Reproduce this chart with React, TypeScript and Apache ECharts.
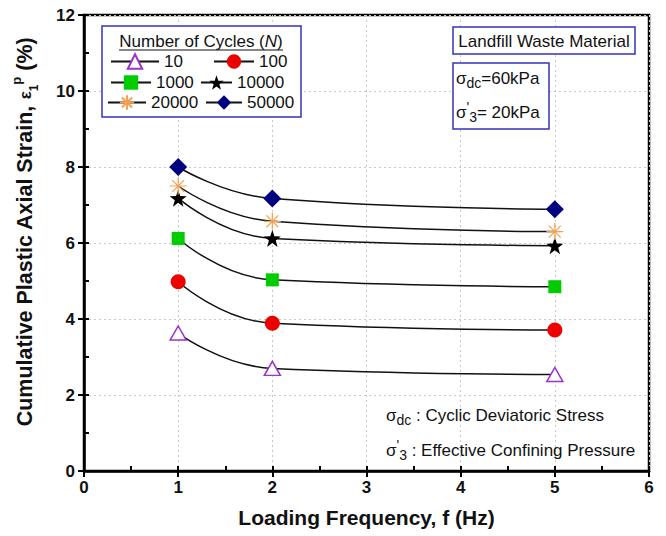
import React, { useEffect, useRef } from "react";
import * as echarts from "echarts";

const frequencies = [1, 2, 5];
const cycleNames = ["10", "100", "1000", "10000", "20000", "50000"];
const strain10 = [3.63, 2.7, 2.54];
const strain100 = [4.98, 3.89, 3.71];
const strain1000 = [6.12, 5.03, 4.85];
const strain10000 = [7.18, 6.12, 5.93];
const strain20000 = [7.5, 6.57, 6.3];
const strain50000 = [8.0, 7.17, 6.89];
const xTicks = [0, 1, 2, 3, 4, 5, 6];
const yTicks = [0, 2, 4, 6, 8, 10, 12];

const FONT = "Liberation Sans, Arial, sans-serif";
const STAR =
  "path://M10 0L12.35 6.76L19.51 6.91L13.8 11.24L15.88 18.09L10 14L4.12 18.09L6.2 11.24L0.49 6.91L7.65 6.76Z";
const ASTER = "path://M0 10L20 10M10 0L10 20M3 3L17 17M17 3L3 17";

const seriesStyles = [
  { symbol: "triangle", size: [16, 14], item: { color: "#ffffff", borderColor: "#9933cc", borderWidth: 1.5 } },
  { symbol: "circle", size: 15, item: { color: "#ee0000" } },
  { symbol: "rect", size: 13, item: { color: "#00cc00" } },
  { symbol: STAR, size: 17, item: { color: "#000000" } },
  { symbol: ASTER, size: 17, item: { color: "rgba(0,0,0,0)", borderColor: "#f4a050", borderWidth: 1.2 } },
  { symbol: "diamond", size: 18, item: { color: "#000080" } },
];

// legend layout: [lineStartX, textX, rowCenterY]
const legendLayout: [number, number, number][] = [
  [110, 163, 62],
  [213, 258, 62],
  [110, 155, 83],
  [200, 236, 83],
  [107, 150, 103],
  [205, 246, 103],
];

export default function App() {
  const ref = useRef<HTMLDivElement>(null);
  useEffect(() => {
    document.body.style.margin = "0";
    const chart = echarts.init(ref.current!, null, { renderer: "svg" });
    const allData = [strain10, strain100, strain1000, strain10000, strain20000, strain50000];
    const series = cycleNames.map((name, i) => ({
      name,
      type: "line",
      smooth: 0.5,
      data: frequencies.map((f, j) => [f, allData[i][j]]),
      symbol: seriesStyles[i].symbol,
      symbolSize: seriesStyles[i].size,
      itemStyle: seriesStyles[i].item,
      lineStyle: { color: "#111111", width: 1.5 },
      z: 5,
    }));
    const legends = cycleNames.map((name, i) => {
      const [lx, tx, cy] = legendLayout[i];
      const w = tx - 5 - lx;
      return {
        data: [name],
        left: lx,
        top: cy - 9,
        itemWidth: w,
        itemHeight: 18,
        padding: 0,
        selectedMode: false,
        textStyle: { fontSize: 17, color: "#111", fontFamily: FONT },
      };
    });
    const richSub = {
      s: { fontSize: 17, fontFamily: FONT, color: "#111", verticalAlign: "middle", lineHeight: 24 },
      sub: { fontSize: 14, fontFamily: FONT, color: "#111", verticalAlign: "bottom", lineHeight: 24 },
      sup: { fontSize: 14, fontFamily: FONT, color: "#111", verticalAlign: "top", lineHeight: 24 },
      t: { fontSize: 17, fontFamily: FONT, color: "#111", verticalAlign: "middle", lineHeight: 24 },
    };
    chart.setOption({
      animation: false,
      backgroundColor: "#ffffff",
      grid: { left: 84, right: 17, top: 15, bottom: 65, show: true, borderColor: "#000", borderWidth: 2.5 },
      legend: legends,
      xAxis: [
        {
          type: "value",
          min: xTicks[0],
          max: xTicks[xTicks.length - 1],
          interval: 1,
          name: "Loading Frequency, f (Hz)",
          nameLocation: "middle",
          nameGap: 36,
          nameTextStyle: { fontSize: 21, fontWeight: "bold", color: "#111", fontFamily: FONT },
          axisLine: { show: true, lineStyle: { color: "#000", width: 2.5 } },
          axisTick: { show: true, inside: false, length: 6, lineStyle: { color: "#000", width: 2 } },
          axisLabel: { fontSize: 17, fontWeight: "bold", color: "#111", fontFamily: FONT, margin: 8 },
          splitLine: { show: true, lineStyle: { color: "#c8c8c8", type: [2, 3], width: 1 } },
        },
        {
          type: "value",
          min: xTicks[0],
          max: xTicks[xTicks.length - 1],
          interval: 1,
          position: "bottom",
          axisLine: { show: false },
          axisTick: { show: true, inside: true, length: 5, lineStyle: { color: "#000", width: 2 } },
          minorTick: { show: true, splitNumber: 2, length: 5, lineStyle: { color: "#000", width: 2 } },
          axisLabel: { show: false },
          splitLine: { show: false },
        },
      ],
      yAxis: [
        {
          type: "value",
          min: yTicks[0],
          max: yTicks[yTicks.length - 1],
          interval: 2,
          name: "Cumulative Plastic Axial Strain, {e|ε}{sub|1}{sup|p} (%)",
          nameLocation: "middle",
          nameGap: 44,
          nameRotate: 90,
          nameTextStyle: {
            fontSize: 21.5,
            fontWeight: "bold",
            color: "#111",
            fontFamily: FONT,
            lineHeight: 30,
            padding: [0, 0, 0, 22],
            rich: {
              e: { fontSize: 17, color: "#111", fontFamily: FONT, verticalAlign: "middle", lineHeight: 30 },
              sub: { fontSize: 12, color: "#111", fontFamily: FONT, verticalAlign: "bottom", lineHeight: 30 },
              sup: { fontSize: 13, fontWeight: "bold", color: "#111", fontFamily: FONT, verticalAlign: "top", lineHeight: 30 },
            },
          },
          axisLine: { show: true, lineStyle: { color: "#000", width: 2.5 } },
          axisTick: { show: true, inside: false, length: 6, lineStyle: { color: "#000", width: 2 } },
          axisLabel: { fontSize: 17, fontWeight: "bold", color: "#111", fontFamily: FONT, margin: 9 },
          splitLine: { show: true, lineStyle: { color: "#c8c8c8", type: [2, 3], width: 1 } },
        },
        {
          type: "value",
          min: yTicks[0],
          max: yTicks[yTicks.length - 1],
          interval: 2,
          position: "left",
          axisLine: { show: false },
          axisTick: { show: true, inside: true, length: 5, lineStyle: { color: "#000", width: 2 } },
          minorTick: { show: true, splitNumber: 2, length: 5, lineStyle: { color: "#000", width: 2 } },
          axisLabel: { show: false },
          splitLine: { show: false },
        },
      ],
      graphic: [
        {
          type: "rect",
          shape: { x: 102, y: 26, width: 199, height: 91 },
          style: { fill: "#ffffff", stroke: "#3333bb", lineWidth: 1.5 },
          z: 1,
          silent: true,
        },
        {
          type: "text",
          x: 201,
          y: 41,
          style: {
            text: "Number of Cycles ({i|N})",
            fontSize: 17,
            fontFamily: FONT,
            fill: "#111",
            align: "center",
            verticalAlign: "middle",
            rich: { i: { fontStyle: "italic", fontSize: 17, fontFamily: FONT, fill: "#111" } },
          },
          z: 2,
        },
        {
          type: "line",
          shape: { x1: 119, y1: 50, x2: 283, y2: 50 },
          style: { stroke: "#111", lineWidth: 1.2 },
          z: 2,
        },
        {
          type: "rect",
          shape: { x: 453, y: 27, width: 182, height: 27 },
          style: { fill: "#ffffff", stroke: "#3333bb", lineWidth: 1.5 },
          z: 1,
        },
        {
          type: "text",
          x: 544,
          y: 41,
          style: {
            text: "Landfill Waste Material",
            fontSize: 17,
            fontFamily: FONT,
            fill: "#111",
            align: "center",
            verticalAlign: "middle",
          },
          z: 2,
        },
        {
          type: "rect",
          shape: { x: 453, y: 63, width: 96, height: 66 },
          style: { fill: "#ffffff", stroke: "#3333bb", lineWidth: 1.5 },
          z: 1,
        },
        {
          type: "text",
          x: 456,
          y: 78,
          style: {
            text: "{s|σ}{sub|dc}{t|=60kPa}",
            fill: "#111",
            verticalAlign: "middle",
            rich: richSub,
          },
          z: 2,
        },
        {
          type: "text",
          x: 456,
          y: 112,
          style: {
            text: "{s|σ}{sup|'}{sub|3}{t|= 20kPa}",
            fill: "#111",
            verticalAlign: "middle",
            rich: richSub,
          },
          z: 2,
        },
        {
          type: "text",
          x: 386,
          y: 415,
          style: {
            text: "{s|σ}{sub|dc}{t| : Cyclic Deviatoric Stress}",
            fill: "#111",
            verticalAlign: "middle",
            rich: richSub,
          },
          z: 2,
        },
        {
          type: "text",
          x: 386,
          y: 450,
          style: {
            text: "{s|σ}{sup|'}{sub|3}{t| : Effective Confining Pressure}",
            fill: "#111",
            verticalAlign: "middle",
            rich: richSub,
          },
          z: 2,
        },
      ],
      series,
    });
    return () => chart.dispose();
  }, []);
  return <div ref={ref} style={{ width: 666, height: 536 }} />;
}
